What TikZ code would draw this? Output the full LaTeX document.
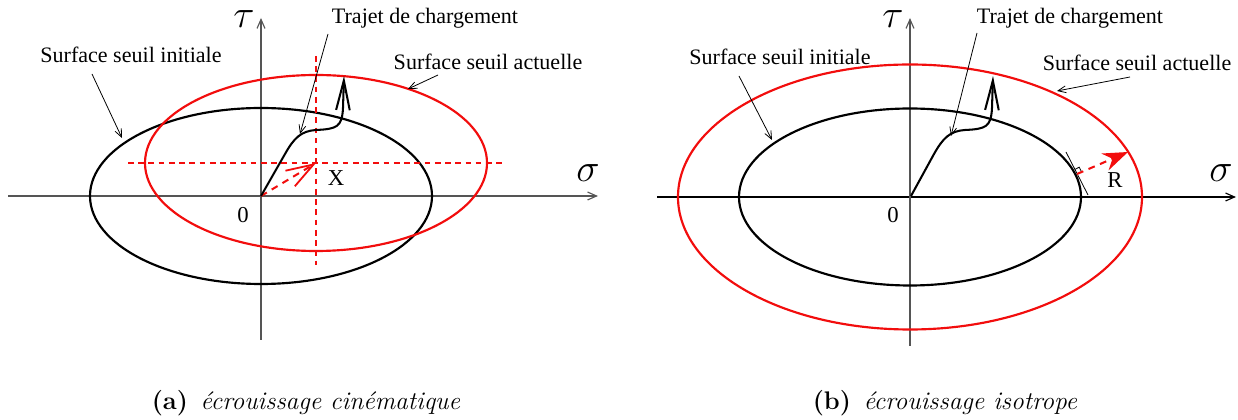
\documentclass[tikz,border=0pt]{standalone}
\usepackage{fontspec}
\usepackage{tikz}
\usetikzlibrary{arrows.meta,positioning,calc}
\newfontfamily\eclabelfont{Liberation Serif}
\definecolor{ecred}  {HTML}{F20D0D}
\definecolor{ecgrey} {HTML}{555555}
\tikzset{
  ecaxis/.style={-{Straight Barb[length=4pt,width=3.5pt]}, line width=0.5pt},
  ecinit/.style={draw=black, line width=0.95pt},
  ecact/.style={draw=ecred, line width=0.95pt},
  ecpath/.style={line width=0.9pt, -{Straight Barb[length=13pt,width=6pt,line width=0.9pt]}},
  ecguide/.style={draw=ecred, line width=0.5pt, dash pattern=on 2.5pt off 2pt},
  ecannot/.style={line width=0.35pt, -{Straight Barb[length=3.5pt,width=3pt]}},
  eclabel/.style={font=\eclabelfont\fontsize{9.7}{11}\selectfont, inner sep=0pt},
  ecsym/.style={font=\LARGE, inner sep=0pt, anchor=base},
  ecnum/.style={font=\eclabelfont\fontsize{10}{12}\selectfont, inner sep=0pt},
  eccap/.style={font=\fontsize{11.2}{13}\selectfont, inner sep=0pt},
}
\begin{document}
\begin{tikzpicture}[x=0.44pt, y=0.44pt]
  \useasboundingbox (0,0) rectangle (1238,420);
  % (a) kinematic
  \coordinate (O1) at (261,224);
  \coordinate (C1) at (316,257);
  \draw[ecaxis, draw=ecgrey] (8,224) -- (598,224);
  \draw[ecaxis, draw=ecgrey] (261,80) -- (261,402);
  \node[ecsym] (tauA) at (244,392) {$\tau$};
  \node[ecsym] (sigA) at (588,238) {$\sigma$};
  \node[ecnum] (zeroA) at (243,205) {0};
  \draw[ecinit] (O1) ellipse [x radius=171, y radius=88];
  \draw[ecact] (C1) ellipse [x radius=171, y radius=88];
  \draw[ecguide] (128,257) -- (505,257);
  \draw[ecguide] (316,364) -- (316,155);
  \draw[ecguide, line width=0.9pt, dash pattern=on 3pt off 2.5pt,
        -{Straight Barb[length=12pt,width=8pt,line width=0.8pt]}] (O1) -- (C1);
  \node[ecnum] (xA) at (336,242) {X};
  \draw[ecpath] (O1) -- (285,266) .. controls (294,282) and (301,289) .. (316,290)
    .. controls (337,291) and (342,293) .. (343,312) -- (344,344);
  \node[eclabel] (iniA) at (131,365) {Surface seuil initiale};
  \node[eclabel] (trjA) at (425,402) {Trajet de chargement};
  \node[eclabel] (actA) at (488,358) {Surface seuil actuelle};
  \coordinate (iniAtip) at (122,282);
  \coordinate (trjAtip) at (300,286);
  \coordinate (actAtip) at (408,331);
  \draw[ecannot] (92,346) -- (iniAtip);
  \draw[ecannot] (328,386) -- (trjAtip);
  \draw[ecannot] (438,345) -- (actAtip);
  \node[eccap] (capA) at (306,17) {\textbf{(a)}\enspace\textit{écrouissage cinématique}};
  % (b) isotropic
  \coordinate (O2) at (910,223);
  \draw[ecaxis] (657,223) -- (1236,223);
  \draw[ecaxis, draw=ecgrey] (910,74) -- (910,402);
  \node[ecsym] (tauB) at (893,392) {$\tau$};
  \node[ecsym] (sigB) at (1221,238) {$\sigma$};
  \node[ecnum] (zeroB) at (893,205) {0};
  \draw[ecinit] (O2) ellipse [x radius=171, y radius=88.5];
  \draw[ecact] (O2) ellipse [x radius=232, y radius=132.5];
  \coordinate (nrmB) at (1077,246);
  \coordinate (rtipB) at (1128,268);
  \draw[line width=0.35pt] (1066,268) -- (1088,225);
  \draw[line width=0.35pt] (1074.7,250.5) -- (1079.2,252.8) -- (1081.5,248.3);
  \draw[ecguide, line width=0.9pt, dash pattern=on 3pt off 2.5pt,
        -{Stealth[length=11pt,width=8pt]}] (nrmB) -- (rtipB);
  \node[ecnum] (rB) at (1115,240) {R};
  \draw[ecpath] (911,224) -- (934,266) .. controls (943,282) and (950,289) .. (965,290)
    .. controls (986,291) and (991,293) .. (992,312) -- (993,344);
  \node[eclabel] (iniB) at (780,363) {Surface seuil initiale};
  \node[eclabel] (trjB) at (1070,402) {Trajet de chargement};
  \node[eclabel] (actB) at (1137,357) {Surface seuil actuelle};
  \coordinate (iniBtip) at (772,280);
  \coordinate (trjBtip) at (951,284);
  \coordinate (actBtip) at (1057,329);
  \draw[ecannot] (739,344) -- (iniBtip);
  \draw[ecannot] (977,387) -- (trjBtip);
  \draw[ecannot] (1130,343) -- (actBtip);
  \node[eccap] (capB) at (945,17) {\textbf{(b)}\enspace\textit{écrouissage isotrope}};
\end{tikzpicture}
\end{document}
